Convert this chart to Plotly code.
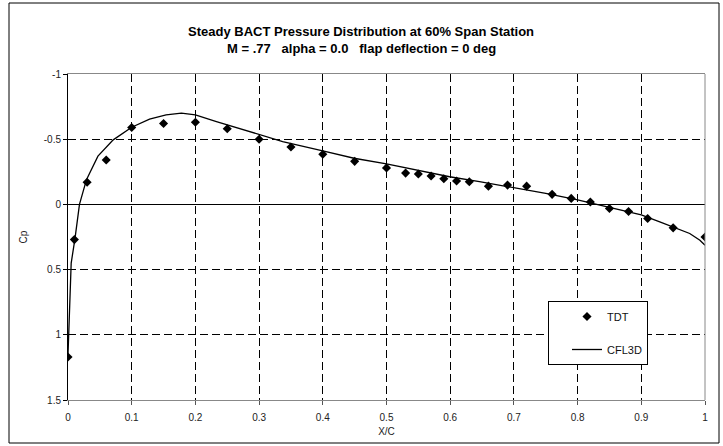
import plotly.graph_objects as go

# Wind-tunnel (TDT) pressure taps
tdt_x = [0, 0.01, 0.03, 0.06, 0.1, 0.15, 0.2, 0.25, 0.3, 0.35, 0.4, 0.45, 0.5,
         0.53, 0.55, 0.57, 0.59, 0.61, 0.63, 0.66, 0.69, 0.72, 0.76, 0.79,
         0.82, 0.85, 0.88, 0.91, 0.95, 1.0]
tdt_cp = [1.17, 0.27, -0.17, -0.34, -0.59, -0.62, -0.63, -0.58, -0.50, -0.44,
          -0.385, -0.33, -0.28, -0.24, -0.233, -0.218, -0.197, -0.18, -0.174,
          -0.14, -0.148, -0.14, -0.077, -0.046, -0.018, 0.031, 0.054, 0.108,
          0.18, 0.25]

# CFL3D computed distribution
cfl_x = [0, 0.003, 0.005, 0.011, 0.018, 0.029, 0.047, 0.071, 0.1, 0.128,
         0.154, 0.178, 0.2, 0.233, 0.285, 0.337, 0.4, 0.449, 0.5, 0.549,
         0.599, 0.646, 0.7, 0.75, 0.8, 0.83, 0.9, 0.929, 0.976, 0.992, 1.0]
cfl_cp = [1.15, 0.66, 0.45, 0.26, 0.0, -0.19, -0.37, -0.495, -0.592, -0.654,
          -0.687, -0.70, -0.687, -0.635, -0.56, -0.482, -0.41, -0.354, -0.31,
          -0.259, -0.212, -0.174, -0.128, -0.085, -0.035, 0.0, 0.08, 0.134,
          0.223, 0.275, 0.313]

x_ticks = [0, 0.1, 0.2, 0.3, 0.4, 0.5, 0.6, 0.7, 0.8, 0.9, 1]
x_tick_text = ["0", "0.1", "0.2", "0.3", "0.4", "0.5", "0.6", "0.7", "0.8", "0.9", "1"]
y_ticks = [-1, -0.5, 0, 0.5, 1, 1.5]
y_tick_text = ["-1", "-0.5", "0", "0.5", "1", "1.5"]

title_lines = ["Steady BACT Pressure Distribution at 60% Span Station",
               "M = .77   alpha = 0.0   flap deflection = 0 deg"]

W, H = 723, 446
L, R, T, B = 68, 18, 74, 46
pw, ph = W - L - R, H - T - B


def px_x(p):
    return (p - L) / pw


def px_y(p):
    return (H - B - p) / ph


font = "Liberation Sans, Arial, sans-serif"

fig = go.Figure()
fig.add_trace(go.Scatter(
    x=tdt_x, y=tdt_cp, mode="markers", name="TDT",
    marker=dict(symbol="diamond", size=7, color="black"),
    legendgroup="a",
))
fig.add_trace(go.Scatter(
    x=cfl_x, y=cfl_cp, mode="lines", name="CFL3D",
    line=dict(color="black", width=1.3),
    legendgroup="b",
))

grid = dict(showgrid=True, gridcolor="black", gridwidth=1, griddash="8px,4px")

fig.update_layout(
    width=W, height=H,
    margin=dict(l=L, r=R, t=T, b=B),
    paper_bgcolor="white", plot_bgcolor="white",
    font=dict(family=font, size=10, color="#222"),
    showlegend=True,
    legend=dict(
        x=px_x(548), y=px_y(301), xanchor="left", yanchor="top",
        bordercolor="black", borderwidth=1, bgcolor="white",
        font=dict(size=11, color="#111"),
        traceorder="grouped", tracegroupgap=14, indentation=18,
        entrywidth=80,
    ),
    xaxis=dict(
        range=[0, 1], tickvals=x_ticks, ticktext=x_tick_text,
        ticks="outside", ticklen=4, tickcolor="#555", ticklabelstandoff=4,
        showline=True, linecolor="#888", linewidth=1, mirror=True,
        zeroline=False,
        title=dict(text="X/C", font=dict(size=10), standoff=5),
        **grid,
    ),
    yaxis=dict(
        range=[1.5, -1], tickvals=y_ticks, ticktext=y_tick_text,
        ticks="outside", ticklen=4, tickcolor="black",
        showline=True, linecolor="black", linewidth=1,
        zeroline=True, zerolinecolor="black", zerolinewidth=1,
        title=dict(text="Cp", font=dict(size=10), standoff=14),
        **grid,
    ),
    shapes=[
        dict(type="line", xref="paper", yref="paper", x0=1, x1=1, y0=0, y1=1,
             line=dict(color="#888", width=1)),
        dict(type="rect", xref="paper", yref="paper",
             x0=px_x(9), x1=px_x(719), y0=px_y(443), y1=px_y(3),
             line=dict(color="black", width=1)),
    ],
    annotations=[
        dict(text="<b>%s</b>" % title_lines[0], xref="paper", yref="paper",
             x=px_x(361), y=px_y(22), showarrow=False,
             font=dict(size=13, color="black")),
        dict(text="<b>%s</b>" % title_lines[1], xref="paper", yref="paper",
             x=px_x(361), y=px_y(39), showarrow=False,
             font=dict(size=13, color="black")),
    ],
)

fig.write_html("out.html")
